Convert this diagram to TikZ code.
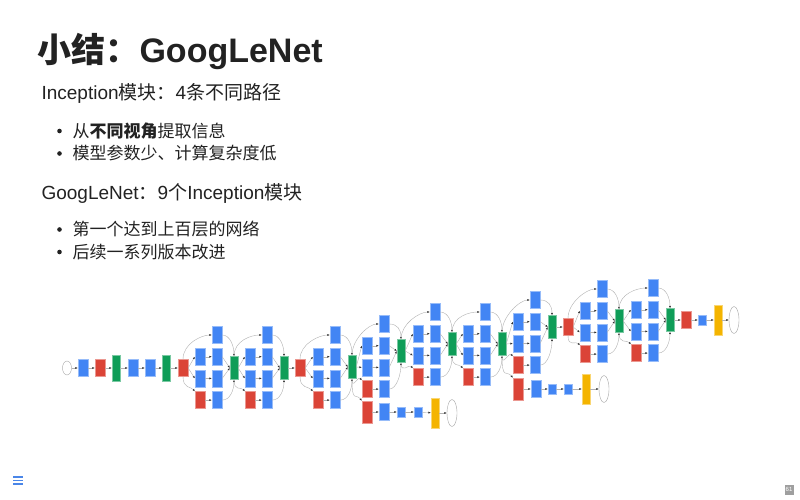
\documentclass[tikz,border=0pt]{standalone}
\usepackage{fontspec}
\setmainfont{Liberation Sans}
\newfontfamily\cjk{Noto Sans CJK SC}
\usetikzlibrary{arrows.meta,shapes.geometric}
\definecolor{gblue}{HTML}{4285F4}
\definecolor{gred}{HTML}{DB4437}
\definecolor{ggreen}{HTML}{0F9D58}
\definecolor{gyellow}{HTML}{F4B400}
\definecolor{txt}{HTML}{222222}
\definecolor{menublue}{HTML}{4A86E8}
\tikzset{
 lay/.style={rectangle, inner sep=0pt, minimum width=10pt, minimum height=17pt, line width=0.4pt},
 conv/.style={lay, fill=gblue, draw=gblue!55!white},
 pool/.style={lay, fill=gred, draw=gred!55!white},
 tallpool/.style={pool, minimum height=22pt},
 concat/.style={lay, fill=ggreen, draw=ggreen!55!white, minimum width=8pt, minimum height=23pt},
 lrn/.style={concat, minimum height=26pt},
 fc/.style={lay, fill=gblue, draw=gblue!55!white, minimum width=8pt, minimum height=10pt},
 soft/.style={lay, fill=gyellow, draw=gyellow!55!white, minimum width=8pt, minimum height=30pt},
 io/.style={ellipse, draw=gray!70, line width=0.4pt, fill=white, minimum width=10pt, minimum height=27pt, inner sep=0pt},
 edge/.style={draw=gray!60, line width=0.4pt, -{Latex[length=2.4pt,width=2pt,color=black!80]}},
 body/.style={anchor=base west, text=txt, font=\fontsize{19}{23}\selectfont},
 item/.style={anchor=base west, text=txt, font=\fontsize{17}{20}\selectfont},
 dot/.style={circle, fill=txt, inner sep=0pt, minimum size=4.6pt},
}
% #1 prefix, #2 input node, #3 x of first column, #4 y of first row, #5 y of concat
\newcommand\incep[5]{%
 \pgfmathsetmacro\incXa{#3}\pgfmathsetmacro\incXb{#3+17}\pgfmathsetmacro\incXg{#3+34}%
 \pgfmathsetmacro\incRa{#4}\pgfmathsetmacro\incRb{#4+21.7}%
 \pgfmathsetmacro\incRc{#4+43.4}\pgfmathsetmacro\incRd{#4+65.1}%
 \node[conv] (#1a) at (\incXb,\incRa) {};
 \node[conv] (#1b1) at (\incXa,\incRb) {};
 \node[conv] (#1b2) at (\incXb,\incRb) {};
 \node[conv] (#1c1) at (\incXa,\incRc) {};
 \node[conv] (#1c2) at (\incXb,\incRc) {};
 \node[pool] (#1d1) at (\incXa,\incRd) {};
 \node[conv] (#1d2) at (\incXb,\incRd) {};
 \node[concat] (#1g) at (\incXg,#5) {};
 \draw[edge] (#2.north) .. controls +(0,-16) and +(-10,0) .. (#1a.west);
 \draw[edge] (#2.east) -- (#1b1.west);
 \draw[edge] (#2.east) -- (#1c1.west);
 \draw[edge] (#2.south) .. controls +(0,12) and +(-4,-5) .. (#1d1.north west);
 \draw[edge] (#1b1) -- (#1b2);
 \draw[edge] (#1c1) -- (#1c2);
 \draw[edge] (#1d1) -- (#1d2);
 \draw[edge] (#1a.east) .. controls +(8,0) and +(0,-10) .. (#1g.north);
 \draw[edge] (#1b2.east) -- (#1g.west);
 \draw[edge] (#1c2.east) -- (#1g.west);
 \draw[edge] (#1d2.east) .. controls +(8,0) and +(0,10) .. (#1g.south);
}
\begin{document}
\begin{tikzpicture}[x=1pt,y=-1pt]
\fill[white] (0,0) rectangle (800,500);
\useasboundingbox (0,0) rectangle (800,500);
% texts
\node[anchor=base west, text=txt, font=\fontsize{34}{40}\selectfont\bfseries] (title) at (34,63) {{\cjk\bfseries 小结：}GoogLeNet};
\node[body] (l1) at (38,100) {Inception{\cjk 模块：}4{\cjk 条不同路径}};
\node[dot] (b1) at (59.5,131) {};
\node[item] (t1) at (69,137) {{\cjk 从}{\cjk\bfseries 不同视角}{\cjk 提取信息}};
\node[dot] (b2) at (59.5,153.5) {};
\node[item] (t2) at (69,159.5) {{\cjk 模型参数少、计算复杂度低}};
\node[body] (l2) at (38,199.5) {GoogLeNet{\cjk ：}9{\cjk 个}Inception{\cjk 模块}};
\node[dot] (b3) at (59.5,229.5) {};
\node[item] (t3) at (69,235.5) {{\cjk 第一个达到上百层的网络}};
\node[dot] (b4) at (59.5,252) {};
\node[item] (t4) at (69,258) {{\cjk 后续一系列版本改进}};
% stem
\node[io, minimum width=9pt, minimum height=14pt] (data) at (67,368) {};
\node[conv] (c1) at (83,368) {};
\node[pool] (p1) at (100,368) {};
\node[lrn] (n1) at (116,368) {};
\node[conv] (c2) at (133,368) {};
\node[conv] (c3) at (150,368) {};
\node[lrn] (n2) at (166,368) {};
\node[pool] (p2) at (183,368) {};
\draw[edge] (data) -- (c1);
\draw[edge] (c1) -- (p1);
\draw[edge] (p1) -- (n1);
\draw[edge] (n1) -- (c2);
\draw[edge] (c2) -- (c3);
\draw[edge] (c3) -- (n2);
\draw[edge] (n2) -- (p2);
% inception 3
\incep{i3a}{p2}{200}{335}{368}
\incep{i3b}{i3ag}{250}{335}{368}
\node[pool] (p3) at (300,368) {};
\draw[edge] (i3bg) -- (p3);
% inception 4
\incep{i4a}{p3}{318}{335}{367}
\incep{i4b}{i4ag}{367}{324}{351}
\incep{i4c}{i4bg}{418}{312}{344}
\incep{i4d}{i4cg}{468}{312}{344}
\incep{i4e}{i4dg}{518}{300}{327}
% auxiliary 1
\node[tallpool] (ap1) at (367,412) {};
\node[conv] (ac1) at (384,412) {};
\node[fc] (af1) at (401,412) {};
\node[fc] (af2) at (418,412) {};
\node[soft] (as1) at (435,413) {};
\node[io] (ao1) at (452,413) {};
\draw[edge] (i4ag.south) .. controls +(0,25) and +(-6,-8) .. (ap1.north west);
\draw[edge] (ap1) -- (ac1);
\draw[edge] (ac1) -- (af1);
\draw[edge] (af1) -- (af2);
\draw[edge] (af2) -- (as1);
\draw[edge] (as1) -- (ao1);
% auxiliary 2
\node[tallpool] (bp1) at (518,389) {};
\node[conv] (bc1) at (536,389) {};
\node[fc] (bf1) at (552,389) {};
\node[fc] (bf2) at (568,389) {};
\node[soft] (bs1) at (586,389) {};
\node[io] (bo1) at (604,389) {};
\draw[edge] (i4dg.south) .. controls +(0,25) and +(-6,-8) .. (bp1.north west);
\draw[edge] (bp1) -- (bc1);
\draw[edge] (bc1) -- (bf1);
\draw[edge] (bf1) -- (bf2);
\draw[edge] (bf2) -- (bs1);
\draw[edge] (bs1) -- (bo1);
% inception 5
\node[pool] (p4) at (568,327) {};
\draw[edge] (i4eg) -- (p4);
\incep{i5a}{p4}{585}{289}{321}
\incep{i5b}{i5ag}{636}{288}{320}
\node[pool] (p5) at (686,320) {};
\node[fc] (f5) at (702,320) {};
\node[soft] (s5) at (718,320) {};
\node[io] (o5) at (734,320) {};
\draw[edge] (i5bg) -- (p5);
\draw[edge] (p5) -- (f5);
\draw[edge] (f5) -- (s5);
\draw[edge] (s5) -- (o5);
% footer
\draw[menublue, line width=1.3pt] (13,477) -- (23,477) (13,480.5) -- (23,480.5) (13,484) -- (23,484);
\node[fill=gray!75, text=white, font=\fontsize{6}{6}\selectfont, inner sep=0pt, minimum width=9pt, minimum height=10pt] (pg) at (789,489.5) {61};
\end{tikzpicture}
\end{document}
